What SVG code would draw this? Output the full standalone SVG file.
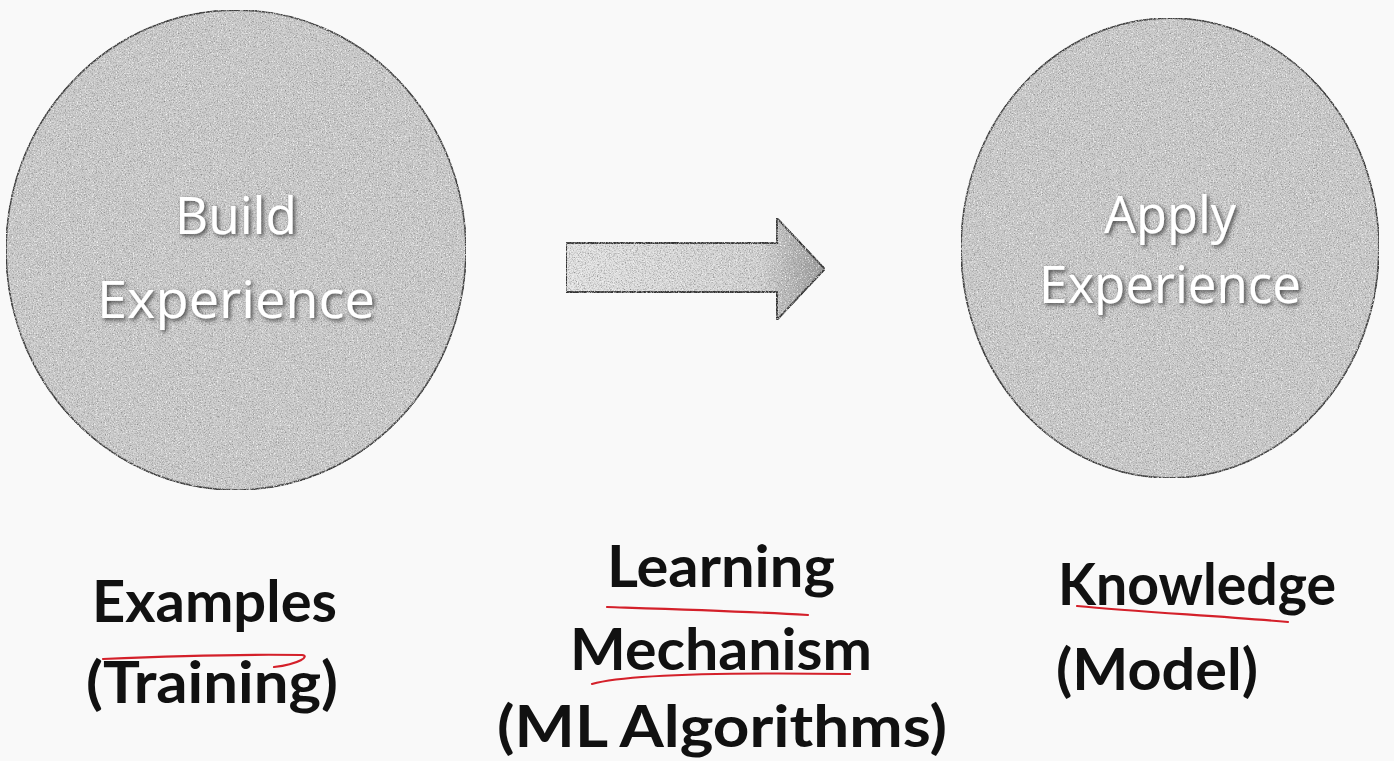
<svg xmlns="http://www.w3.org/2000/svg" width="1394" height="761" viewBox="0 0 1394 761">
<defs>
<filter id="grain" x="0" y="0" width="100%" height="100%">
<feTurbulence type="fractalNoise" baseFrequency="0.75" numOctaves="2" seed="7" result="n"/>
<feColorMatrix in="n" type="matrix" values="0 0 0 0 0.25  0 0 0 0 0.25  0 0 0 0 0.25  2.2 0 0 0 -0.95" result="dark"/>
<feColorMatrix in="n" type="matrix" values="0 0 0 0 1  0 0 0 0 1  0 0 0 0 1  0 -2.6 0 0 1.15" result="light"/>
<feMerge result="m"><feMergeNode in="SourceGraphic"/><feMergeNode in="dark"/><feMergeNode in="light"/></feMerge>
<feComposite in="m" in2="SourceGraphic" operator="in"/>
</filter>
<filter id="shadow" x="-10%" y="-20%" width="120%" height="140%">
<feGaussianBlur in="SourceAlpha" stdDeviation="2"/>
<feOffset dx="2" dy="2" result="b"/>
<feFlood flood-color="#444"/>
<feComposite in2="b" operator="in" result="s"/>
<feMerge><feMergeNode in="s"/><feMergeNode in="SourceGraphic"/></feMerge>
</filter>
<linearGradient id="arrowFill" x1="566" y1="0" x2="825" y2="0" gradientUnits="userSpaceOnUse">
<stop offset="0" stop-color="#e6e6e6"/>
<stop offset="0.75" stop-color="#d4d4d4"/>
<stop offset="1" stop-color="#9a9a9a"/>
</linearGradient>
</defs>
<style>
.disc{fill:#cdcdcd;stroke:#3e3e3e;stroke-width:1.8}
.inner{font-family:"Open Sans","Liberation Sans",sans-serif;font-size:51px;fill:#ffffff;text-anchor:middle}
.lbl{font-family:Lato,"Liberation Sans",sans-serif;font-weight:bold;font-size:58px;fill:#111}
.red{fill:none;stroke:#d4202a;stroke-width:2.2;stroke-linecap:round}
</style>
<rect width="1394" height="761" fill="#f9f9f9"/>

<g id="build-experience">
<ellipse class="disc" cx="236" cy="250" rx="230" ry="240" filter="url(#grain)"/>
<g filter="url(#shadow)">
<text class="inner" x="236" y="234" textLength="122" lengthAdjust="spacingAndGlyphs">Build</text>
<text class="inner" x="236" y="318" textLength="278" lengthAdjust="spacingAndGlyphs">Experience</text>
</g>
</g>

<g id="apply-experience">
<ellipse class="disc" cx="1170" cy="248" rx="209" ry="230" filter="url(#grain)"/>
<g filter="url(#shadow)">
<text class="inner" x="1170" y="233" textLength="132" lengthAdjust="spacingAndGlyphs">Apply</text>
<text class="inner" x="1170" y="303" textLength="262" lengthAdjust="spacingAndGlyphs">Experience</text>
</g>
</g>

<g id="connectors">
<path d="M566,243 L777,243 L777,218 L825,269 L777,320 L777,292 L566,292 Z" fill="url(#arrowFill)" stroke="#333" stroke-width="2" filter="url(#grain)"/>
</g>

<g id="label-examples">
<text class="lbl" x="92" y="622" textLength="245" lengthAdjust="spacingAndGlyphs">Examples</text>
<text class="lbl" x="86" y="703" textLength="252" lengthAdjust="spacingAndGlyphs">(Training)</text>
<path class="red" d="M103,659 C170,656 240,654 302,655 C310,656 300,664 274,667"/>
</g>

<g id="label-learning">
<text class="lbl" x="607" y="587" textLength="228" lengthAdjust="spacingAndGlyphs">Learning</text>
<text class="lbl" x="570" y="670" textLength="302" lengthAdjust="spacingAndGlyphs">Mechanism</text>
<text class="lbl" x="497" y="747" textLength="450" lengthAdjust="spacingAndGlyphs">(ML Algorithms)</text>
<path class="red" d="M607,607 C670,609 740,611 808,615"/>
<path class="red" d="M592,684 C620,676 700,672 850,674"/>
</g>

<g id="label-knowledge">
<text class="lbl" x="1058" y="605" textLength="278" lengthAdjust="spacingAndGlyphs">Knowledge</text>
<text class="lbl" x="1056" y="690" textLength="202" lengthAdjust="spacingAndGlyphs">(Model)</text>
<path class="red" d="M1077,606 C1140,612 1220,616 1288,622"/>
</g>
</svg>
